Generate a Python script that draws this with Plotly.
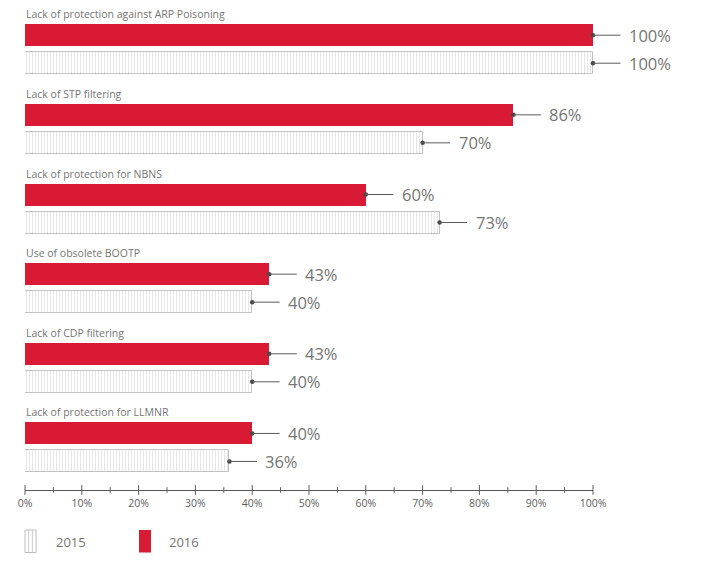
import plotly.graph_objects as go

categories = [
    "Lack of protection against ARP Poisoning",
    "Lack of STP filtering",
    "Lack of protection for NBNS",
    "Use of obsolete BOOTP",
    "Lack of CDP filtering",
    "Lack of protection for LLMNR",
]
values_2016 = [100, 86, 60, 43, 43, 40]
values_2015 = [100, 70, 73, 40, 40, 36]
major_ticks = [0, 10, 20, 30, 40, 50, 60, 70, 80, 90, 100]
minor_ticks = [5, 15, 25, 35, 45, 55, 65, 75, 85, 95]
tick_labels = [f"{t}%" for t in major_ticks]
series_names = ["2015", "2016"]

RED = "#D91A35"
GRAY_TXT = "#757575"
AXIS_C = "#5a5a5a"
FONT = "Open Sans"

BODY = 8  # default page margin around the figure
W, H = 702 - BODY, 568 - BODY
ML = 25 - BODY
MT = 0
PLOT_RIGHT = 593 - BODY
AXIS_Y = 490 - BODY
MR = W - PLOT_RIGHT
MB = H - AXIS_Y
PW = W - ML - MR
PH = H - MT - MB

GROUP0 = 49.2 - BODY   # centre of first group (figure px)
PITCH = 79.65
OFF = 14 / PITCH
BW = 22 / PITCH
Y_TOP = (MT - GROUP0) / PITCH
Y_BOT = (AXIS_Y - GROUP0) / PITCH
LEAD_PX = 29

idx = list(range(len(categories)))
y16 = [i - OFF for i in idx]
y15 = [i + OFF for i in idx]

fig = go.Figure()

fig.add_trace(go.Bar(
    x=values_2016, y=y16, orientation="h", width=BW,
    marker=dict(color=RED, line=dict(width=0)),
    name="2016", showlegend=False, hoverinfo="skip",
))
fig.add_trace(go.Bar(
    x=values_2015, y=y15, orientation="h", width=BW,
    marker=dict(color="white",
                line=dict(color="#c2c2c2", width=1),
                pattern=dict(shape="|", fgcolor="#c8c8c8", bgcolor="white",
                             size=3, solidity=0.3)),
    name="2015", showlegend=False, hoverinfo="skip",
))

# leader lines + dots + labels
for vals, ys in ((values_2016, y16), (values_2015, y15)):
    for v, y in zip(vals, ys):
        fig.add_annotation(
            x=v, y=y, xref="x", yref="y", text="", showarrow=True,
            ax=LEAD_PX, ay=0, arrowhead=0, arrowwidth=1, arrowcolor=AXIS_C,
            standoff=0, startstandoff=0,
        )
        fig.add_annotation(
            x=v, y=y, xref="x", yref="y", text=f"{v}%", showarrow=False,
            xanchor="left", yanchor="middle", xshift=LEAD_PX + 5,
            font=dict(family=FONT, size=16.5, color=GRAY_TXT),
        )
    fig.add_trace(go.Scatter(
        x=vals, y=ys, mode="markers",
        marker=dict(color="#4a4a4a", size=4.5), showlegend=False,
        hoverinfo="skip", cliponaxis=False,
    ))

# category labels
for i, c in zip(idx, categories):
    fig.add_annotation(
        x=0, y=i, xref="x", yref="y", text=c, showarrow=False,
        xanchor="left", yanchor="middle", yshift=35, xshift=-1,
        font=dict(family=FONT, size=10.5, color=GRAY_TXT),
    )

# crossing tick marks on the axis
fig.add_trace(go.Scatter(
    x=major_ticks, y=[Y_BOT] * len(major_ticks), mode="markers",
    marker=dict(symbol="line-ns", size=7, line=dict(color=AXIS_C, width=1)),
    showlegend=False, hoverinfo="skip", cliponaxis=False,
))
fig.add_trace(go.Scatter(
    x=minor_ticks, y=[Y_BOT] * len(minor_ticks), mode="markers",
    marker=dict(symbol="line-ns", size=4, line=dict(color=AXIS_C, width=1)),
    showlegend=False, hoverinfo="skip", cliponaxis=False,
))

# manual legend (positions given in page px)
def px_to_paper_x(px):
    return (px - BODY - ML) / PW

def py_to_paper_y(py):
    return (MT + PH - (py - BODY)) / PH

sw_y0, sw_y1 = py_to_paper_y(552.5), py_to_paper_y(530)
hx0, hx1 = px_to_paper_x(25), px_to_paper_x(36)
fig.add_shape(type="rect", xref="paper", yref="paper",
              x0=hx0, x1=hx1, y0=sw_y0, y1=sw_y1,
              line=dict(color="#bdbdbd", width=1), fillcolor="white")
for k in (1, 2):
    xx = hx0 + (hx1 - hx0) * k / 3
    fig.add_shape(type="line", xref="paper", yref="paper",
                  x0=xx, x1=xx, y0=sw_y0, y1=sw_y1,
                  line=dict(color="#c8c8c8", width=1))
fig.add_shape(type="rect", xref="paper", yref="paper",
              x0=px_to_paper_x(139), x1=px_to_paper_x(151),
              y0=sw_y0, y1=sw_y1, line=dict(width=0), fillcolor=RED)
for name, lx in zip(series_names, (54, 167)):
    fig.add_annotation(
        x=px_to_paper_x(lx), y=py_to_paper_y(541.5), xref="paper", yref="paper",
        text=name, showarrow=False, xanchor="left", yanchor="middle",
        font=dict(family=FONT, size=13, color=GRAY_TXT),
    )

fig.update_layout(
    width=W, height=H,
    margin=dict(l=ML, r=MR, t=MT, b=MB),
    paper_bgcolor="white", plot_bgcolor="white",
    showlegend=False, bargap=0,
    barmode="overlay",
    xaxis=dict(
        range=[0, 100], tickmode="array", tickvals=major_ticks, ticktext=tick_labels,
        showgrid=False, zeroline=False, showline=True, linecolor=AXIS_C, linewidth=1,
        ticks="outside", ticklen=3, tickcolor="rgba(0,0,0,0)",
        tickfont=dict(family=FONT, size=10.5, color="#5e5e5e"),
        fixedrange=True,
    ),
    yaxis=dict(
        range=[Y_BOT, Y_TOP], showticklabels=False, showgrid=False,
        zeroline=False, showline=False, ticks="", fixedrange=True,
    ),
)

fig.write_html("out.html")
